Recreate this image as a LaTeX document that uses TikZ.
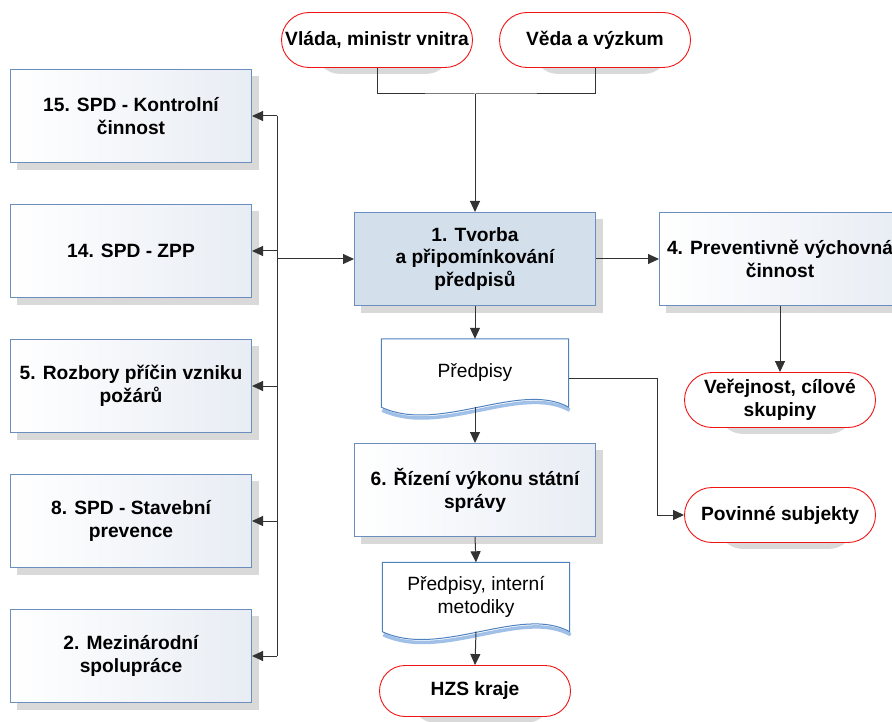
\documentclass[tikz,border=0pt]{standalone}
\usepackage{fontspec}
\setmainfont{Liberation Sans}
\usetikzlibrary{shapes.misc,backgrounds,arrows.meta,positioning}

\definecolor{boxline}{RGB}{108,142,191}
\definecolor{boxfill}{RGB}{211,223,235}
\definecolor{boxright}{RGB}{232,237,244}
\definecolor{docline}{RGB}{79,129,189}
\definecolor{docshade}{RGB}{160,192,232}
\definecolor{termline}{RGB}{240,20,20}
\definecolor{shade}{RGB}{217,217,217}

\begin{document}
\begin{tikzpicture}[x=1pt,y=-1pt,
    every node/.style={font=\fontsize{19.2}{22.8}\selectfont\bfseries,align=center},
    process/.style={rectangle,draw=boxline,line width=1pt,left color=white,right color=boxright,
		minimum width=241pt,minimum height=93pt,inner sep=2pt},
    mainproc/.style={process,left color=boxfill,right color=boxfill},
    term/.style={rounded rectangle,draw=termline,line width=0.9pt,fill=white,
		minimum width=195pt,minimum height=55pt,inner sep=2pt},
    doc/.style={rectangle,minimum width=187pt,minimum height=68pt,inner sep=2pt,
		font=\fontsize{19.2}{22.8}\selectfont},
    boxshadow/.style={fill=shade},
    wire/.style={line width=1pt,draw=black!80},
    arr/.style={wire,-{Triangle[length=11pt,width=10pt]}}
]
    \useasboundingbox (0,0) rectangle (892,722);
    \clip (0,0) rectangle (892,722);

    \node (vlada) [term] at (377,40) {Vláda, ministr vnitra};
    \node (veda) [term] at (595,40) {Věda a výzkum};
    \node (tvorba) [mainproc] at (475,259) {1. Tvorba\\a připomínkování\\předpisů};
    \node (prevent) [process] at (780,259) {4. Preventivně výchovná\\činnost};
    \node (verejnost) [term] at (780,400) {Veřejnost, cílové\\skupiny};
    \node (pred) [doc] at (475,373) {Předpisy};
    \node (povinne) [term] at (780,515) {Povinné subjekty};
    \node (rizeni) [process] at (475,490) {6. Řízení výkonu státní\\správy};
    \node (metod) [doc,minimum height=69pt] at (476,597) {Předpisy, interní\\metodiky};
    \node (hzs) [term,minimum height=51pt] at (475,691) {HZS kraje};

    \node (kontrol) [process] at (131,116) {15. SPD - Kontrolní\\činnost};
    \node (zpp) [process,below=41pt of kontrol] {14. SPD - ZPP};
    \node (rozbor) [process,below=41pt of zpp] {5. Rozbory příčin vzniku\\požárů};
    \node (stavebni) [process,below=41pt of rozbor] {8. SPD - Stavební\\prevence};
    \node (mezinar) [process,below=41pt of stavebni] {2. Mezinárodní\\spolupráce};

    % shadows behind the boxes
    \begin{scope}[on background layer]
	\foreach \n in {tvorba,prevent,rizeni,kontrol,zpp,rozbor,stavebni,mezinar}
	    \fill[boxshadow] ([shift={(7pt,-7pt)}]\n.south west) rectangle ([shift={(7pt,-7pt)}]\n.north east);
	\foreach \n in {vlada,veda,verejnost,povinne,hzs}
	    \fill[boxshadow,rounded corners=25pt] ([shift={(6pt,-6pt)}]\n.south west) rectangle ([shift={(6pt,-6pt)}]\n.north east);
    \end{scope}

    % document shapes
    \foreach \d in {pred,metod} {
	\draw[docshade,line width=3.5pt] ([xshift=1pt,yshift=-3pt]\d.south east)
		.. controls +(-49,-27) and +(58,27) .. ([xshift=1pt,yshift=-3pt]\d.south west);
	\draw[docline,line width=1pt] (\d.south west) -- (\d.north west) -- (\d.north east)
		-- (\d.south east) .. controls +(-49,-27) and +(58,27) .. (\d.south west) -- cycle;
    }

    \coordinate (join) at (475,94);
    \draw[wire] (vlada.south) |- (join) -| (veda.south);
    \draw[arr] (join) -- (tvorba.north);
    \draw[arr] (tvorba.east) -- (prevent.west);
    \draw[arr] (prevent.south) -- (verejnost.north);
    \draw[arr] (tvorba.south) -- (pred.north);
    \draw[arr] (pred.south) -- (rizeni.north);
    \draw[arr] (rizeni.south) -- (metod.north);
    \draw[arr] (metod.south) -- (hzs.north);

    \coordinate (bend) at (657,378);
    \draw[arr] ([yshift=-5pt]pred.east) -- (bend) |- (povinne.west);

    \coordinate (bus) at (277,259);
    \draw[arr] (bus) -- (tvorba.west);
    \draw[wire] (bus |- kontrol.east) -- (bus |- mezinar.east);
    \foreach \n in {kontrol,zpp,rozbor,stavebni,mezinar}
	\draw[arr] (bus |- \n.east) -- (\n.east);
\end{tikzpicture}
\end{document}
